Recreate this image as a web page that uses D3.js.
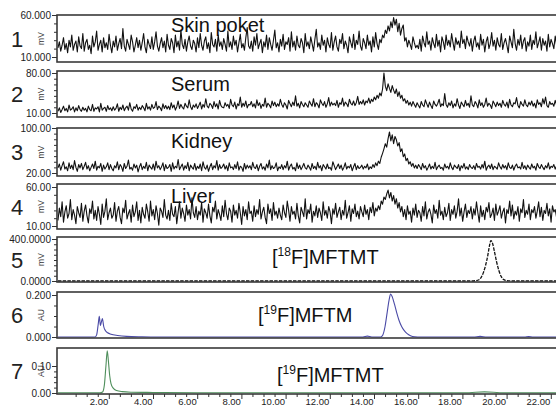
<!DOCTYPE html>
<html><head><meta charset="utf-8">
<script src="https://cdn.jsdelivr.net/npm/d3@7"></script>
<style>
body{margin:0;background:#fff}
svg{display:block}
text{font-family:"Liberation Sans",Arial,sans-serif}
</style>
</head><body>
<svg id="chart" width="556" height="408"></svg>
<script>
// Radio-detector traces (mV), sampled every 1/16 min starting at -0.3 min
const sampleStart = -0.3, sampleStep = 0.0625;

const skinPocket = [
21,28,17,24,33,19,26,15,30,22,36,18,25,29,16,34,23,20,38,17,
27,31,19,24,14,35,22,28,41,18,25,30,16,33,21,27,19,37,24,15,
29,22,35,18,26,32,20,44,23,17,31,25,19,36,28,16,24,33,21,30,
18,27,38,22,15,31,25,20,34,19,28,40,23,17,26,33,21,29,16,37,
24,19,32,27,15,36,22,29,18,42,25,20,31,17,28,35,23,19,30,26,
16,33,21,38,24,18,29,34,20,27,15,39,25,22,31,17,36,23,28,19,
32,25,17,41,22,28,19,35,24,30,16,27,37,21,26,18,33,45,23,20,
29,17,34,24,38,20,26,31,15,28,22,36,19,33,25,18,30,42,21,27,
16,31,23,37,19,28,25,33,17,40,22,29,18,35,24,21,32,27,15,38,
23,28,20,34,26,17,31,43,22,27,19,36,24,30,16,33,25,21,39,18,
28,35,22,17,31,26,38,20,29,24,15,34,27,21,37,19,30,25,41,23,
18,32,27,20,36,24,29,16,34,22,39,26,19,31,27,36,33,42,38,47,
41,52,45,57,48,55,40,50,36,44,48,29,33,22,30,25,19,34,27,21,
24,20,31,17,35,27,22,40,25,29,18,33,26,21,37,23,30,16,34,28,
19,36,24,30,22,38,27,18,33,25,29,21,41,26,31,20,35,28,23,32,
17,29,35,22,27,19,37,24,31,16,28,34,20,26,39,23,30,18,33,25,
22,38,19,27,32,24,15,35,28,21,43,26,18,31,24,36,20,29,33,17,
28,23,36,19,30,25,40,21,27,34,18,32,24,29,17,37,22,31,26,20,
35,24,18,30,27,39,21,33,25,16,31,28,36,22,26,19,34,29,23,44,
20,31,25,37,18,29,24,33,21,38,27,17,32,26,30,19,35,23,28,22
];

const serum = [
13,19,11,16,22,14,18,12,24,15,17,21,12,19,14,23,16,13,20,15,
18,12,22,16,14,25,13,19,17,21,12,27,15,18,20,13,23,16,19,14,
21,15,18,26,13,20,16,24,14,19,22,15,28,17,13,21,18,25,15,20,
16,23,19,14,27,17,21,15,25,18,20,30,16,22,19,14,26,18,23,17,
22,16,28,19,24,15,21,31,18,25,20,17,27,22,19,33,21,16,24,20,
26,18,23,29,17,25,20,35,22,19,27,24,18,30,21,26,17,32,23,20,
19,28,22,25,18,34,24,21,29,17,26,23,38,20,27,22,31,19,25,24,
30,21,26,19,33,23,28,18,25,22,36,20,27,24,19,31,23,29,21,26,
22,34,25,20,28,24,17,32,26,21,29,23,40,22,27,19,30,25,21,28,
24,20,31,26,22,35,21,28,25,19,33,27,23,30,20,26,37,22,29,24,
27,23,32,20,28,25,36,22,29,26,21,34,27,24,31,23,28,39,25,30,
26,33,24,31,28,36,27,34,30,38,33,41,36,45,40,52,80,57,49,61,
53,46,58,50,44,52,39,47,36,41,31,35,27,32,24,29,22,30,25,20,
28,23,19,30,24,21,33,26,20,29,23,18,31,25,22,27,34,21,26,23,
44,25,20,28,23,31,19,26,22,35,24,18,29,25,21,32,23,27,20,40,
24,21,30,26,19,33,23,28,20,25,36,22,27,24,18,31,26,21,29,23,
27,20,32,25,22,29,19,34,24,21,28,26,37,23,19,30,25,22,33,24,
21,29,24,31,22,27,19,33,25,28,21,35,26,38,23,20,30,25,27,22,
32,24,20,29,26,35,23,28,21,31,25,19,34,27,22,30,24,36,26,21,
29,23,33,25,20,31,27,24,38,22,28,26,21,32,25,29,23,35,27,24
];

const kidney = [
29,36,25,33,40,27,31,24,38,28,34,26,42,30,23,35,29,37,26,32,
39,27,33,24,30,36,28,41,25,32,29,37,23,34,27,31,38,26,35,28,
24,33,29,40,26,35,31,23,37,28,32,43,27,30,25,36,29,34,22,31,
37,26,32,28,39,24,34,30,27,36,25,41,29,33,26,31,38,24,35,28,
30,35,23,38,27,32,29,44,26,31,36,25,33,28,39,24,34,30,27,37,
25,32,28,36,24,40,30,27,34,23,31,37,26,33,29,42,25,35,28,31,
36,27,33,24,38,29,31,26,35,28,40,25,32,30,23,37,27,34,29,33,
26,39,30,28,35,24,32,37,27,31,25,36,29,43,26,33,28,30,38,24,
31,28,35,26,33,29,41,25,32,36,27,30,24,38,28,34,26,31,37,29,
27,34,30,25,37,28,32,26,39,29,33,24,35,31,27,36,28,30,25,40,
33,26,31,36,28,34,25,30,38,27,32,29,35,24,31,37,26,33,28,30,
34,27,32,29,36,26,31,28,35,30,38,33,41,37,48,55,63,72,66,81,
93,77,88,72,85,79,68,74,58,63,49,54,42,46,36,40,32,37,29,34,
28,35,31,26,37,29,33,25,30,36,27,32,28,39,26,31,34,28,30,25,
36,29,32,27,38,30,26,34,31,28,35,24,33,29,37,27,31,26,35,30,
28,33,26,37,30,32,27,35,29,41,25,31,34,28,36,26,32,30,27,38,
31,27,35,29,33,26,38,30,28,34,25,32,36,29,31,27,39,28,33,26,
34,30,27,36,29,32,25,37,31,28,35,30,26,33,29,38,27,32,30,35,
27,33,29,31,36,26,34,28,32,30,37,25,31,35,28,33,29,36,27,31,
35,28,32,30,26,37,29,33,31,28,34,30,36,27,32,29,35,31,28,33
];

const liver = [
17,33,22,41,15,28,36,20,26,44,18,31,24,13,35,27,21,39,16,29,
37,23,14,32,26,42,19,30,17,35,25,12,38,21,29,45,18,27,33,20,
24,40,16,29,35,21,13,33,27,43,19,26,31,15,37,22,28,41,17,30,
14,34,25,20,38,28,16,42,23,31,18,36,26,11,33,29,21,44,24,19,
30,17,39,25,22,35,13,28,41,20,33,26,16,37,24,31,19,46,27,21,
35,18,29,24,40,15,32,27,20,38,23,14,34,28,42,19,31,25,17,36,
22,43,26,18,33,29,15,37,24,30,20,39,27,12,35,23,31,18,41,26,
29,16,36,22,31,25,44,19,28,34,21,13,38,26,32,17,40,24,29,20,
33,24,18,37,27,21,42,30,16,35,25,29,19,39,23,14,34,28,22,45,
19,31,26,38,15,29,23,36,21,33,27,17,41,24,30,20,35,28,13,32,
25,39,21,28,34,18,30,24,43,20,27,36,16,32,26,38,22,29,19,35,
28,22,37,25,31,18,34,27,40,23,33,29,36,31,42,38,47,44,51,56,
46,53,42,49,38,45,33,40,28,35,22,31,18,36,25,29,15,33,24,38,
21,30,27,16,35,23,41,19,28,32,25,14,37,26,31,20,43,24,29,18,
34,22,27,39,17,31,25,36,20,29,45,23,33,16,28,38,21,30,26,35,
19,32,24,41,27,15,36,22,30,18,34,28,40,21,25,33,17,38,24,29,
36,20,28,33,14,31,26,42,23,37,19,29,24,35,16,32,27,44,21,30,
25,38,18,31,27,35,20,29,41,22,34,17,30,26,39,23,32,15,36,28,
31,21,43,26,19,35,28,24,37,16,30,33,22,40,27,18,34,25,29,39,
20,33,27,36,22,30,17,38,25,31,23,42,28,19,34,26,37,21,32,24
];

// Reference standards: [time (min), response]
const radioStandard = [
[-0.3,0],[18.4,0],[18.6,3],[18.75,12],[18.85,35],[18.95,80],[19.05,150],[19.15,245],
[19.22,330],[19.29,385],[19.36,362],[19.45,280],[19.55,180],[19.65,100],[19.75,45],
[19.85,16],[19.95,5],[20.1,1],[20.3,0],[24.6,0]
];
const uvMFTM = [
[-0.3,0],[1.38,0],[1.45,0.01],[1.52,0.06],[1.57,0.098],[1.62,0.055],[1.66,0.07],
[1.71,0.088],[1.77,0.05],[1.85,0.03],[1.95,0.02],[2.1,0.013],[2.4,0.007],[2.8,0.003],
[3.5,0.001],[4.2,0],[13.5,0],[13.7,0.004],[13.9,0],[14.3,0],[14.4,0.01],[14.5,0.05],
[14.6,0.12],[14.69,0.18],[14.75,0.205],[14.83,0.19],[14.93,0.155],[15.03,0.115],
[15.13,0.08],[15.25,0.05],[15.37,0.03],[15.5,0.016],[15.65,0.006],[15.85,0.001],[16.1,0],
[18.5,0],[18.8,0.003],[19.1,0],[20.8,0],[21.0,0.002],[21.2,0],[24.6,0]
];
const uvMFTMT = [
[-0.3,0.001],[1.6,0.001],[1.72,0.004],[1.8,0.03],[1.87,0.1],[1.93,0.156],[1.98,0.12],
[2.04,0.065],[2.1,0.035],[2.2,0.018],[2.35,0.009],[2.6,0.005],[3.0,0.003],[4.0,0.002],
[6.0,0.001],[18.2,0.001],[18.6,0.003],[19.0,0.004],[19.4,0.003],[19.8,0.001],[24.6,0.001]
];

const panelNumbers = ["1","2","3","4","5","6","7"];
const yUnits = ["mV","mV","mV","mV","mV","AU","AU"];
const yTickValues = [[10,60],[10,80],[20,100],[10,60],[0,400],[0,0.2],[0,0.1]];
const yTickLabels = [["10.000","60.000"],["10.00","80.00"],["20.00","100.00"],["10.00","60.00"],
                     ["0.0000","400.0000"],["0.000","0.200"],["0.00","0.10"]];
const yMinorStep = [10,10,10,10,50,0.05,0.02];
const xTickValues = [2,4,6,8,10,12,14,16,18,20,22];
const xTickLabels = ["2.00","4.00","6.00","8.00","10.00","12.00","14.00","16.00","18.00","20.00","22.00"];

const toSeries = vals => vals.map((v,i) => [sampleStart + i*sampleStep, v]);

// layout of the stacked panels
const L = 57, R = 560;
const frames = [
  {top:15,  bot:62,  yLo:57,  yHi:15},
  {top:71,  bot:117, yLo:113, yHi:73},
  {top:128, bot:176, yLo:173, yHi:128},
  {top:184, bot:229, yLo:226, yHi:187},
  {top:237, bot:282, yLo:281, yHi:239},
  {top:292, bot:338, yLo:337, yHi:295},
  {top:348, bot:394, yLo:393, yHi:366}
];

const x = d3.scaleLinear().domain([0,22]).range([64.6,550.8]);
const svg = d3.select("#chart");

const panels = [
  {data: toSeries(skinPocket), color:"#111", width:1.1, label:"Skin poket"},
  {data: toSeries(serum),      color:"#111", width:1.1, label:"Serum"},
  {data: toSeries(kidney),     color:"#111", width:1.1, label:"Kidney"},
  {data: toSeries(liver),      color:"#111", width:1.1, label:"Liver"},
  {data: radioStandard, color:"#111", width:1.3, dash:"3.5,1.2", curve:true, label:["[","18","F]MFTMT"]},
  {data: uvMFTM,  color:"#4a4aa6", width:1.1, curve:true, label:["[","19","F]MFTM"]},
  {data: uvMFTMT, color:"#4f8f5c", width:1.1, curve:true, label:["[","19","F]MFTMT"]}
];
const labelPos = [
  {x:171, y:32}, {x:171, y:91}, {x:171, y:148}, {x:171, y:203},
  {x:272, y:264}, {x:258, y:322}, {x:277, y:382}
];

panels.forEach((p, i) => {
  const f = frames[i];
  const tv = yTickValues[i];
  const y = d3.scaleLinear().domain(tv).range([f.yLo, f.yHi]);
  const g = svg.append("g");

  const clipId = "clip" + i;
  svg.append("clipPath").attr("id", clipId)
    .append("rect").attr("x", L).attr("y", f.top).attr("width", R - L).attr("height", f.bot - f.top);

  // trace
  const line = d3.line().x(d => x(d[0])).y(d => y(d[1]));
  if (p.curve) line.curve(d3.curveMonotoneX);
  g.append("path").datum(p.data)
    .attr("clip-path", `url(#${clipId})`)
    .attr("d", line)
    .attr("fill", "none")
    .attr("stroke", p.color)
    .attr("stroke-width", p.width)
    .attr("stroke-linejoin", "round")
    .attr("stroke-dasharray", p.dash || null);

  // frame
  g.append("rect").attr("x", L).attr("y", f.top).attr("width", R - L).attr("height", f.bot - f.top)
    .attr("fill", "none").attr("stroke", "#3a3a3a").attr("stroke-width", 1.6);

  // y axis: labelled extremes plus minor ticks
  const minor = d3.range(tv[0] + yMinorStep[i], tv[1] - yMinorStep[i]*0.5, yMinorStep[i]);
  const minorAxis = d3.axisLeft(y).tickValues(minor).tickSize(3).tickFormat("");
  const majorAxis = d3.axisLeft(y).tickValues(tv).tickSize(5).tickPadding(1)
    .tickFormat((d, k) => yTickLabels[i][k]);
  [minorAxis, majorAxis].forEach(ax => {
    const ag = g.append("g").attr("transform", `translate(${L},0)`).call(ax);
    ag.select(".domain").remove();
    ag.selectAll("line").attr("stroke", "#333");
    ag.selectAll("text").attr("font-size", 10).attr("fill", "#222")
      .attr("font-family", '"Liberation Sans",Arial,sans-serif');
  });

  // unit label
  const midY = (f.top + f.bot) / 2;
  g.append("text").attr("transform", `translate(44,${midY}) rotate(-90)`)
    .attr("text-anchor", "middle").attr("font-size", 8.5).attr("fill", "#333")
    .text(yUnits[i]);

  // panel number
  g.append("text").attr("x", 17).attr("y", midY + 8).attr("text-anchor", "middle")
    .attr("font-size", 22).attr("fill", "#222").text(panelNumbers[i]);

  // sample / compound label
  const lp = labelPos[i];
  const t = g.append("text").attr("x", lp.x).attr("y", lp.y).attr("font-size", 20).attr("fill", "#111");
  if (Array.isArray(p.label)) {
    t.append("tspan").text(p.label[0]);
    t.append("tspan").attr("font-size", 12).attr("dy", -8).text(p.label[1]);
    t.append("tspan").attr("dy", 8).text(p.label[2]);
  } else {
    t.text(p.label);
  }

  // time axis on the bottom panel
  if (i === panels.length - 1) {
    const minorX = d3.range(0.5, 24.5, 0.5).filter(v => v % 2 !== 0);
    const ax1 = svg.append("g").attr("transform", `translate(0,${f.bot})`)
      .call(d3.axisBottom(x).tickValues(minorX).tickSize(3).tickFormat(""));
    const ax2 = svg.append("g").attr("transform", `translate(0,${f.bot})`)
      .call(d3.axisBottom(x).tickValues(xTickValues).tickSize(5).tickFormat((d,k) => xTickLabels[k]));
    [ax1, ax2].forEach(a => { a.select(".domain").remove(); a.selectAll("line").attr("stroke", "#333"); });
    ax2.selectAll("text").attr("font-size", 9.5).attr("fill", "#222")
      .attr("text-anchor", "end").attr("dx", -1).attr("y", 4).attr("dy", "0.71em")
      .attr("font-family", '"Liberation Sans",Arial,sans-serif');
  }
});
</script>
</body></html>
